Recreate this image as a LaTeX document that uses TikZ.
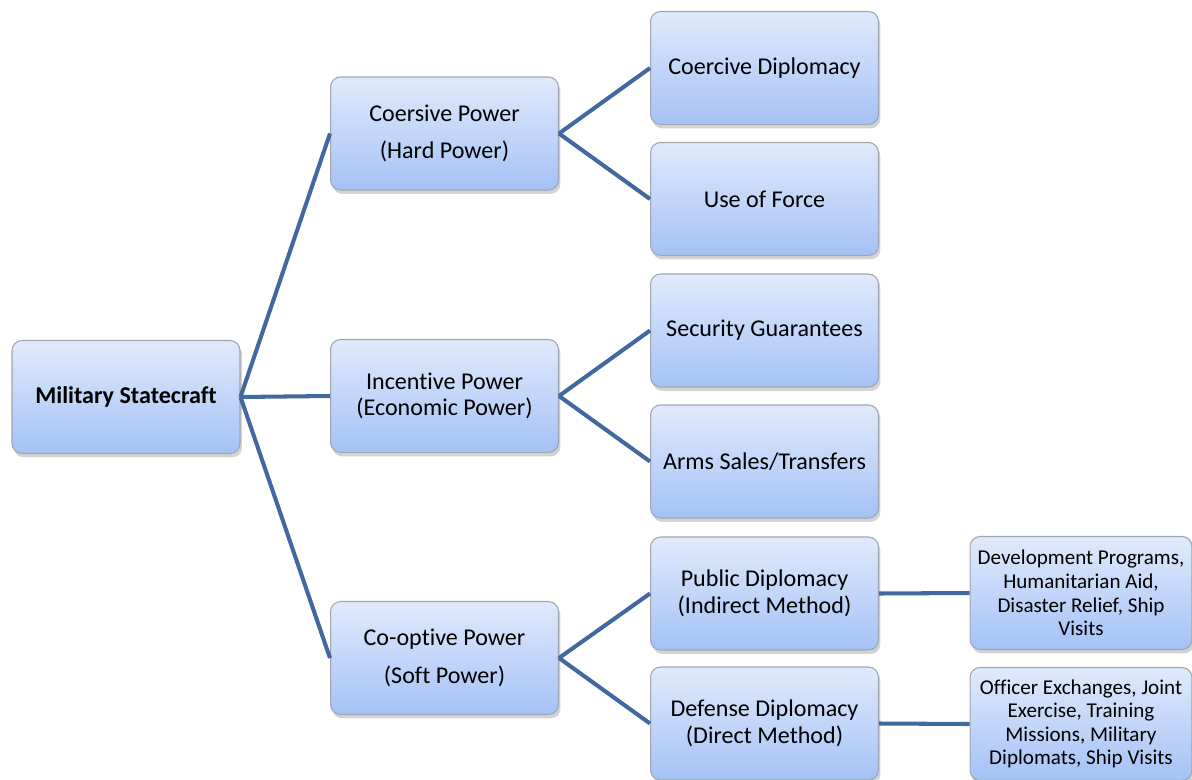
\documentclass[tikz,border=0pt]{standalone}
\usepackage{fontspec}
\setmainfont{Carlito}[Ligatures=NoCommon]
\usetikzlibrary{shadows}

\definecolor{boxtop}{RGB}{224,234,252}
\definecolor{boxbot}{RGB}{164,194,245}
\definecolor{boxrim}{RGB}{160,165,175}
\definecolor{linkblue}{RGB}{66,104,160}

\begin{document}
\begin{tikzpicture}[
    x=0.02cm, y=-0.02cm,
    font=\fontsize{13.7}{15.2}\selectfont,
    box/.style={draw=boxrim, line width=0.6pt, rounded corners=2mm,
      top color=boxtop, bottom color=boxbot, align=center,
      minimum width=4.56cm, minimum height=2.26cm,
      drop shadow={opacity=0.35, shadow xshift=0.4mm, shadow yshift=-0.8mm}},
    small/.style={box, minimum width=4.44cm, font=\fontsize{12}{13.4}\selectfont},
    link/.style={draw=linkblue, line width=2.3pt}
  ]
    \useasboundingbox (0,0) rectangle (1192,780);

    % root
    \node[box, font=\fontsize{13.7}{15.2}\selectfont\bfseries] (ms) at (126,397) {Military Statecraft};

    % second level
    \node[box] (hard) at (444.5,133.5) {Coersive Power\\[6pt](Hard Power)};
    \node[box] (econ) at (444.5,396) {Incentive Power\\(Economic Power)};
    \node[box] (soft) at (444.5,658) {Co-optive Power\\[6pt](Soft Power)};

    % third level
    \foreach \n/\y/\t in {cd/68/Coercive Diplomacy, uf/199/Use of Force,
        sg/330.5/Security Guarantees, as/461.5/{Arms Sales/Transfers},
        pd/593.5/{Public Diplomacy\\(Indirect Method)},
        dd/723.5/{Defense Diplomacy\\(Direct Method)}} {
      \node[box] (\n) at (764.5,\y) {\t};
    }

    % fourth level
    \node[small] (pdx) at (1081,593) {Development Programs,\\Humanitarian Aid,\\Disaster Relief, Ship\\Visits};
    \node[small] (ddx) at (1081,724) {Officer Exchanges, Joint\\Exercise, Training\\Missions, Military\\Diplomats, Ship Visits};

    \draw[link] (ms.east) -- (hard.west);
    \draw[link] (ms.east) -- (econ.west);
    \draw[link] (ms.east) -- (soft.west);
    \draw[link] (hard.east) -- (cd.west);
    \draw[link] (hard.east) -- (uf.west);
    \draw[link] (econ.east) -- (sg.west);
    \draw[link] (econ.east) -- (as.west);
    \draw[link] (soft.east) -- (pd.west);
    \draw[link] (soft.east) -- (dd.west);
    \draw[link] (pd.east) -- (pdx.west);
    \draw[link] (dd.east) -- (ddx.west);
  \end{tikzpicture}
\end{document}
